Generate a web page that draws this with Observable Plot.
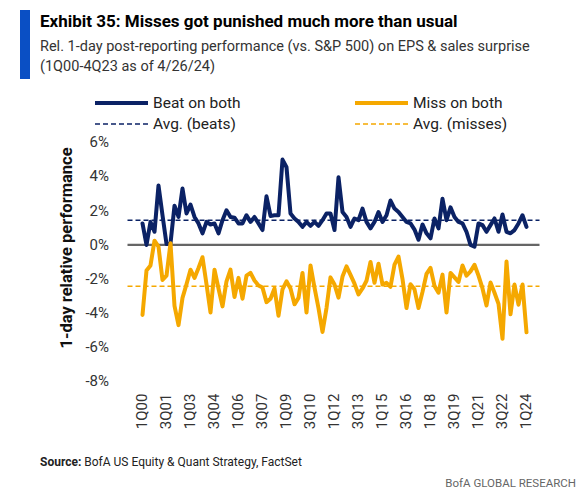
<!DOCTYPE html>
<html>
<head>
<meta charset="utf-8">
<script src="https://cdn.jsdelivr.net/npm/d3@7"></script>
<script src="https://cdn.jsdelivr.net/npm/@observablehq/plot@0.6"></script>
<style>
  html, body { margin: 0; padding: 0; background: #fff; }
  #wrap { position: relative; width: 582px; height: 495px; overflow: hidden; font-family: Roboto, "Liberation Sans", sans-serif; }
  .abs { position: absolute; white-space: nowrap; }
  #bar { left: 20px; top: 10px; width: 10px; height: 69px; background: #0A4FC4; }
  #title { left: 40px; top: 11px; font-family: "Liberation Sans Narrow", Roboto, sans-serif; font-weight: bold; font-size: 17px; color: #000; }
  #sub { left: 40px; top: 37px; font-size: 14.5px; color: #333; line-height: 20px; }
  #ytitle { left: 66px; top: 248px; transform: translate(-50%, -50%) rotate(-90deg); font-weight: bold; font-size: 16.5px; color: #111; }
  #chart { left: 0; top: 130px; }
  #source { left: 40px; top: 455px; font-size: 12px; color: #222; }
  #brand { right: 6px; top: 476px; font-size: 11.5px; color: #666; }
</style>
</head>
<body>
<div id="wrap">
  <div id="bar" class="abs"></div>
  <div id="title" class="abs">Exhibit 35: Misses got punished much more than usual</div>
  <div id="sub" class="abs">Rel. 1-day post-reporting performance (vs. S&amp;P 500) on EPS &amp; sales surprise<br>(1Q00-4Q23 as of 4/26/24)</div>
  <svg class="abs" style="left:0;top:0" width="582" height="140" id="legend"></svg>
  <div id="ytitle" class="abs">1-day relative performance</div>
  <div id="chart" class="abs"></div>
  <div id="source" class="abs"><b>Source:</b> BofA US Equity &amp; Quant Strategy, FactSet</div>
  <div id="brand" class="abs">BofA GLOBAL RESEARCH</div>
</div>
<script>
// Categories: quarters 1Q00 .. 1Q24
const years = d3.range(0, 25);
const quarters = [];
for (const y of years) for (const q of [1, 2, 3, 4]) {
  if (y === 24 && q > 1) break;
  quarters.push(q + "Q" + String(y).padStart(2, "0"));
}

// Series values (% relative 1-day performance)
const beatOnBoth = [
  1.26, 0.0, 1.35, 0.77, 3.48, 1.74, 0.05, 0.1, 2.3, 1.64,
  3.3, 1.84, 2.36, 1.64, 1.26, 0.68, 1.35, 1.2, 1.26, 0.68,
  1.45, 2.03, 1.64, 1.6, 1.26, 1.26, 1.74, 1.35, 1.64, 1.26,
  0.87, 2.85, 1.7, 1.74, 1.74, 5.0, 4.55, 1.84, 1.55, 1.35,
  1.06, 1.35, 1.12, 1.35, 1.12, 1.45, 1.84, 1.84, 0.87, 3.96,
  1.93, 1.64, 1.06, 1.55, 1.45, 2.13, 1.35, 0.97, 1.35, 1.93,
  1.35, 1.74, 2.6, 2.13, 1.93, 1.64, 1.35, 1.26, 0.9, 0.3,
  1.2, 0.68, 0.39, 1.55, 0.97, 2.7, 1.45, 2.2, 1.64, 1.35,
  1.26, 0.77, 0.0, -0.1, 1.26, 1.16, 0.77, 1.16, 1.55, 0.77,
  1.78, 0.77, 0.68, 0.87, 1.26, 1.74, 1.06
];
const missOnBoth = [
  -4.1, -1.5, -1.2, 0.25, -0.1, -2.05, -1.8, 0.1, -3.57, -4.7,
  -3.1, -2.3, -1.45, -1.93, -1.35, -0.72, -2.3, -3.96, -1.45, -2.55,
  -3.6, -2.13, -1.45, -3.05, -1.93, -3.15, -1.8, -1.64, -2.08, -2.37,
  -2.5, -3.35, -3.15, -2.55, -4.15, -2.6, -2.13, -2.55, -3.48, -3.1,
  -1.64, -3.96, -1.2, -2.5, -3.7, -5.1, -3.7, -1.9, -2.32, -3.09,
  -1.85, -1.26, -1.75, -2.27, -2.9, -2.55, -2.1, -1.0, -2.22, -1.1,
  -2.32, -2.22, -2.45, -1.16, -0.68, -2.0, -3.7, -2.3, -2.6, -3.7,
  -2.75, -1.7, -1.35, -2.4, -2.8, -1.74, -3.96, -1.64, -1.9, -2.17,
  -1.2, -1.8, -1.55, -1.16, -1.8, -2.55, -3.55, -2.2, -2.8, -3.45,
  -5.5, -0.97, -4.06, -2.32, -3.5, -2.32, -5.12
];
const avgBeats = [1.45];
const avgMisses = [-2.42];

// Tick labels
const xTickLabels = ["1Q00","3Q01","1Q03","3Q04","1Q06","3Q07","1Q09","3Q10","1Q12","3Q13","1Q15","3Q16","1Q18","3Q19","1Q21","3Q22","1Q24"];
const yTicks = [-8, -6, -4, -2, 0, 2, 4, 6];

const legendItems = [
  {label: "Beat on both", color: "#0B2265", dash: null, col: 0, row: 0},
  {label: "Miss on both", color: "#F5A800", dash: null, col: 1, row: 0},
  {label: "Avg. (beats)", color: "#0B2265", dash: "5,3", col: 0, row: 1},
  {label: "Avg. (misses)", color: "#F5A800", dash: "5,3", col: 1, row: 1}
];

const NAVY = "#0B2265", GOLD = "#F5A800";
const table = quarters.map((q, i) => ({q, beat: beatOnBoth[i], miss: missOnBoth[i]}));

const chart = Plot.plot({
  width: 582,
  height: 310,
  marginLeft: 127.5,
  marginRight: 42.5,
  marginTop: 12,
  marginBottom: 59,
  style: {fontFamily: "Roboto, 'Liberation Sans', sans-serif", fontSize: "15px", color: "#333", background: "transparent"},
  x: {type: "point", domain: quarters, padding: 0},
  y: {domain: [-8, 6]},
  marks: [
    Plot.ruleY([0], {stroke: "#666", strokeWidth: 2.2}),
    Plot.ruleY(avgBeats, {stroke: NAVY, strokeWidth: 1.6, strokeDasharray: "5,3"}),
    Plot.ruleY(avgMisses, {stroke: GOLD, strokeWidth: 1.6, strokeDasharray: "5,3"}),
    Plot.line(table, {x: "q", y: "beat", stroke: NAVY, strokeWidth: 4, strokeLinejoin: "round"}),
    Plot.line(table, {x: "q", y: "miss", stroke: GOLD, strokeWidth: 4, strokeLinejoin: "round"}),
    Plot.axisY({ticks: yTicks, tickFormat: d => d + "%", tickSize: 0, tickPadding: 19, label: null}),
    Plot.axisX({ticks: xTickLabels, tickRotate: -90, tickSize: 0, tickPadding: 12, label: null})
  ]
});
document.getElementById("chart").appendChild(chart);

// Legend
const lg = d3.select("#legend");
const colX = [95, 355];
const rowY = [103, 124];
for (const it of legendItems) {
  const x0 = colX[it.col], y0 = rowY[it.row];
  lg.append("line").attr("x1", x0).attr("x2", x0 + 53).attr("y1", y0).attr("y2", y0)
    .attr("stroke", it.color).attr("stroke-width", it.dash ? 1.6 : 4)
    .attr("stroke-dasharray", it.dash);
  lg.append("text").attr("x", x0 + 58).attr("y", y0).attr("dy", "0.35em")
    .attr("font-family", "Roboto, 'Liberation Sans', sans-serif")
    .attr("font-size", 15.5).attr("fill", "#222").text(it.label);
}
</script>
</body>
</html>
